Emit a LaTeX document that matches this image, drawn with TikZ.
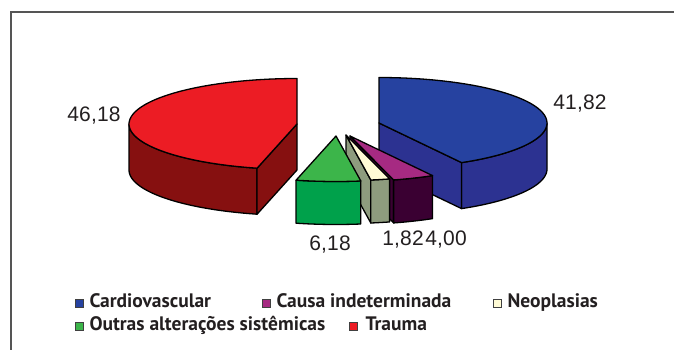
\documentclass[tikz,border=0pt]{standalone}
\usepackage{fontspec}
\setmainfont{Liberation Sans}
\newfontfamily\legfont{PT Sans}
\newfontfamily\numfont[LetterSpace=1]{Liberation Sans}
\usetikzlibrary{positioning}

\definecolor{redtop}{HTML}{EC1C24}
\definecolor{redside}{HTML}{861010}
\definecolor{bluetop}{HTML}{2642A0}
\definecolor{blueside}{HTML}{2C3291}
\definecolor{greentop}{HTML}{3CB54A}
\definecolor{greenside}{HTML}{00A14B}
\definecolor{neotop}{HTML}{FFFBD5}
\definecolor{neoside}{HTML}{8E9C7E}
\definecolor{purptop}{HTML}{A62A82}
\definecolor{purpside}{HTML}{3A0032}
\definecolor{framegray}{HTML}{555555}
\definecolor{inkblack}{HTML}{231F20}

\tikzset{
  outline/.style={draw=black, line width=1.3pt, line join=round},
  numlabel/.style={font=\numfont\fontsize{21}{21}\selectfont, text=inkblack, inner sep=0pt},
  legsq/.style={draw=black!75, line width=0.6pt, minimum size=8pt, inner sep=0pt},
  legtxt/.style={font=\legfont\bfseries\fontsize{19.5}{19.5}\selectfont, text=inkblack, inner sep=0pt},
}

\begin{document}
\begin{tikzpicture}[x=1pt,y=-1pt]
\useasboundingbox (0,0) rectangle (674,350);
\pgfmathsetmacro{\ra}{168};
\pgfmathsetmacro{\rb}{45.5};
\pgfmathsetmacro{\hbig}{46};
\pgfmathsetmacro{\hsmall}{43};

\draw[framegray, line width=1.5pt] (11,350) -- (11,12) -- (674,12);

% Trauma
\begin{scope}[shift={(297,124)}]
\pgfmathsetmacro{\astart}{90};
\pgfmathsetmacro{\aend}{90+360*0.4618};
\draw[outline, fill=redside] plot[domain=180:\aend, samples=30] ({\ra*cos(\x)},{-\rb*sin(\x)}) -- ++(0,\hbig) -- plot[domain=\aend:180, samples=30] ({\ra*cos(\x)},{\hbig-\rb*sin(\x)}) -- cycle;
\draw[outline, fill=redside] (0,0) -- ({\ra*cos(\aend)},{-\rb*sin(\aend)}) -- ++(0,\hbig) -- (0,\hbig) -- cycle;
\draw[outline, fill=redtop] (0,0) -- plot[domain=\astart:\aend, samples=50] ({\ra*cos(\x)},{-\rb*sin(\x)}) -- cycle;
\end{scope}

% Cardiovascular
\begin{scope}[shift={(379,123)}]
\pgfmathsetmacro{\astart}{90-360*0.4182};
\pgfmathsetmacro{\aend}{90};
\draw[outline, fill=blueside] plot[domain=\astart:0, samples=30] ({\ra*cos(\x)},{-\rb*sin(\x)}) -- ++(0,\hbig) -- plot[domain=0:\astart, samples=30] ({\ra*cos(\x)},{\hbig-\rb*sin(\x)}) -- cycle;
\draw[outline, fill=blueside] (0,0) -- ({\ra*cos(\astart)},{-\rb*sin(\astart)}) -- ++(0,\hbig) -- (0,\hbig) -- cycle;
\draw[outline, fill=bluetop] (0,0) -- plot[domain=\astart:\aend, samples=50] ({\ra*cos(\x)},{-\rb*sin(\x)}) -- cycle;
\end{scope}

% Causa indeterminada
\begin{scope}[shift={(350,136)}]
\pgfmathsetmacro{\astart}{90-360*(0.4182+0.04)};
\pgfmathsetmacro{\aend}{90-360*0.4182};
\draw[outline, fill=purpside] (0,0) -- ({\ra*cos(\astart)},{-\rb*sin(\astart)}) -- ++(0,\hsmall) -- (0,\hsmall) -- cycle;
\draw[outline, fill=purpside] plot[domain=\astart:\aend, samples=10] ({\ra*cos(\x)},{-\rb*sin(\x)}) -- ++(0,\hsmall) -- plot[domain=\aend:\astart, samples=10] ({\ra*cos(\x)},{\hsmall-\rb*sin(\x)}) -- cycle;
\draw[outline, fill=purptop] (0,0) -- plot[domain=\astart:\aend, samples=10] ({\ra*cos(\x)},{-\rb*sin(\x)}) -- cycle;
\end{scope}

% Neoplasias
\begin{scope}[shift={(346,135)}]
\pgfmathsetmacro{\astart}{90-360*(0.4182+0.04+0.0182)};
\pgfmathsetmacro{\aend}{90-360*(0.4182+0.04)};
\draw[outline, fill=neoside] (0,0) -- ({\ra*cos(\astart)},{-\rb*sin(\astart)}) -- ++(0,\hsmall) -- (0,\hsmall) -- cycle;
\draw[outline, fill=neoside] plot[domain=\astart:\aend, samples=6] ({\ra*cos(\x)},{-\rb*sin(\x)}) -- ++(0,\hsmall) -- plot[domain=\aend:\astart, samples=6] ({\ra*cos(\x)},{\hsmall-\rb*sin(\x)}) -- cycle;
\draw[outline, fill=neotop] (0,0) -- plot[domain=\astart:\aend, samples=6] ({\ra*cos(\x)},{-\rb*sin(\x)}) -- cycle;
\end{scope}

% Outras alteracoes sistemicas
\begin{scope}[shift={(336,136)}]
\pgfmathsetmacro{\astart}{90+360*0.4618};
\pgfmathsetmacro{\aend}{90+360*(0.4618+0.0618)};
\draw[outline, fill=greenside] plot[domain=\astart:\aend, samples=12] ({\ra*cos(\x)},{-\rb*sin(\x)}) -- ++(0,\hsmall) -- plot[domain=\aend:\astart, samples=12] ({\ra*cos(\x)},{\hsmall-\rb*sin(\x)}) -- cycle;
\draw[outline, fill=greentop] (0,0) -- plot[domain=\astart:\aend, samples=12] ({\ra*cos(\x)},{-\rb*sin(\x)}) -- cycle;
\end{scope}

\node[numlabel] (vtrauma) at (94,116) {46,18};
\node[numlabel] (vcardio) at (580,104) {41,82};
\node[numlabel] (voutras) at (330,245) {6,18};
\node[numlabel] (vneo) at (403,240) {1,82};
\node[numlabel] (vcausa) at (446,240) {4,00};

\node[legsq, fill=bluetop] (sqcardio) at (79,303) {};
\node[legtxt, right=6pt of sqcardio.south east, anchor=base west] (txtcardio) {Cardiovascular};
\node[legsq, fill=purptop] (sqcausa) at (266,303) {};
\node[legtxt, right=6pt of sqcausa.south east, anchor=base west] (txtcausa) {Causa indeterminada};
\node[legsq, fill=neotop] (sqneo) at (497,303) {};
\node[legtxt, right=6pt of sqneo.south east, anchor=base west] (txtneo) {Neoplasias};
\node[legsq, fill=greentop] (sqoutras) at (79,326) {};
\node[legtxt, right=6pt of sqoutras.south east, anchor=base west] (txtoutras) {Outras alterações sistêmicas};
\node[legsq, fill=redtop] (sqtrauma) at (353,326) {};
\node[legtxt, right=8pt of sqtrauma.south east, anchor=base west] (txttrauma) {Trauma};
\end{tikzpicture}
\end{document}
